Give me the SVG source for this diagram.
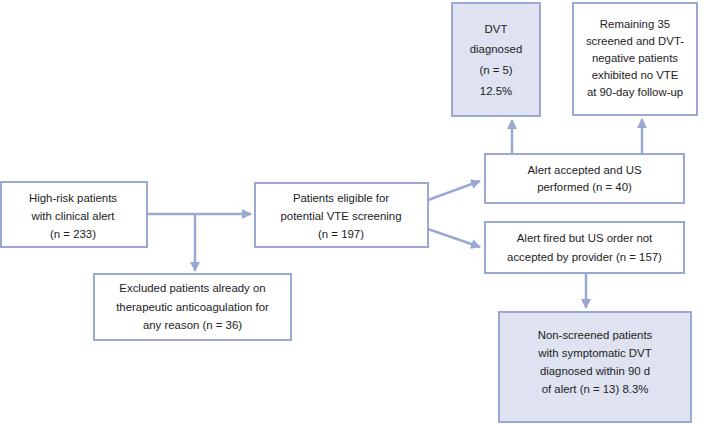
<svg xmlns="http://www.w3.org/2000/svg" width="709" height="424" viewBox="0 0 709 424">
<style>
.box{fill:#ffffff;stroke:#9aa8d4;stroke-width:2}
.shaded{fill:#dee2f1;stroke:#9aa8d4;stroke-width:2}
.t{font-family:"Liberation Sans",Arial,sans-serif;font-size:11.4px;fill:#222;text-anchor:middle}
.c{stroke:#9aa8d4;stroke-width:2.5;fill:none}
</style>
<defs>
<marker id="ah" viewBox="0 0 10 10" refX="9" refY="5" markerWidth="4" markerHeight="4" orient="auto" markerUnits="strokeWidth">
<path d="M0,0 L10,5 L0,10 z" fill="#9aa8d4"/>
</marker>
</defs>
<rect width="709" height="424" fill="#ffffff"/>
<g id="connectors">
<path class="c" d="M147,214 H251" marker-end="url(#ah)"/>
<path class="c" d="M195,214 V271" marker-end="url(#ah)"/>
<path class="c" d="M428,200 L480,181" marker-end="url(#ah)"/>
<path class="c" d="M428,229 L480,247" marker-end="url(#ah)"/>
<path class="c" d="M512,154 V120" marker-end="url(#ah)"/>
<path class="c" d="M642,154 V119" marker-end="url(#ah)"/>
<path class="c" d="M586,273 V308" marker-end="url(#ah)"/>
</g>
<g id="n1">
<rect class="box" x="1" y="182" width="146" height="65"/>
<text class="t" x="73" y="202">High-risk patients</text>
<text class="t" x="73" y="220">with clinical alert</text>
<text class="t" x="73" y="238">(n = 233)</text>
</g>
<g id="n2">
<rect class="box" x="255" y="183" width="173" height="64"/>
<text class="t" x="341" y="202">Patients eligible for</text>
<text class="t" x="341" y="220">potential VTE screening</text>
<text class="t" x="341" y="238">(n = 197)</text>
</g>
<g id="n3">
<rect class="box" x="94" y="274" width="197" height="66"/>
<text class="t" x="192.5" y="292">Excluded patients already on</text>
<text class="t" x="192.5" y="311">therapeutic anticoagulation for</text>
<text class="t" x="192.5" y="329">any reason (n = 36)</text>
</g>
<g id="n4">
<rect class="shaded" x="452" y="3" width="88" height="113"/>
<text class="t" x="496" y="33">DVT</text>
<text class="t" x="496" y="53">diagnosed</text>
<text class="t" x="496" y="74">(n = 5)</text>
<text class="t" x="496" y="95">12.5%</text>
</g>
<g id="n5">
<rect class="box" x="573" y="3" width="124" height="112"/>
<text class="t" x="635" y="28">Remaining 35</text>
<text class="t" x="635" y="45">screened and DVT-</text>
<text class="t" x="635" y="62">negative patients</text>
<text class="t" x="635" y="79">exhibited no VTE</text>
<text class="t" x="635" y="96">at 90-day follow-up</text>
</g>
<g id="n6">
<rect class="box" x="485" y="154" width="199" height="49"/>
<text class="t" x="584.5" y="174">Alert accepted and US</text>
<text class="t" x="584.5" y="191">performed (n = 40)</text>
</g>
<g id="n7">
<rect class="box" x="485" y="222" width="199" height="51"/>
<text class="t" x="584.5" y="242">Alert fired but US order not</text>
<text class="t" x="584.5" y="261">accepted by provider (n = 157)</text>
</g>
<g id="n8">
<rect class="shaded" x="499" y="312" width="192" height="110"/>
<text class="t" x="595" y="339">Non-screened patients</text>
<text class="t" x="595" y="357">with symptomatic DVT</text>
<text class="t" x="595" y="375">diagnosed within 90 d</text>
<text class="t" x="595" y="393">of alert (n = 13) 8.3%</text>
</g>
</svg>
